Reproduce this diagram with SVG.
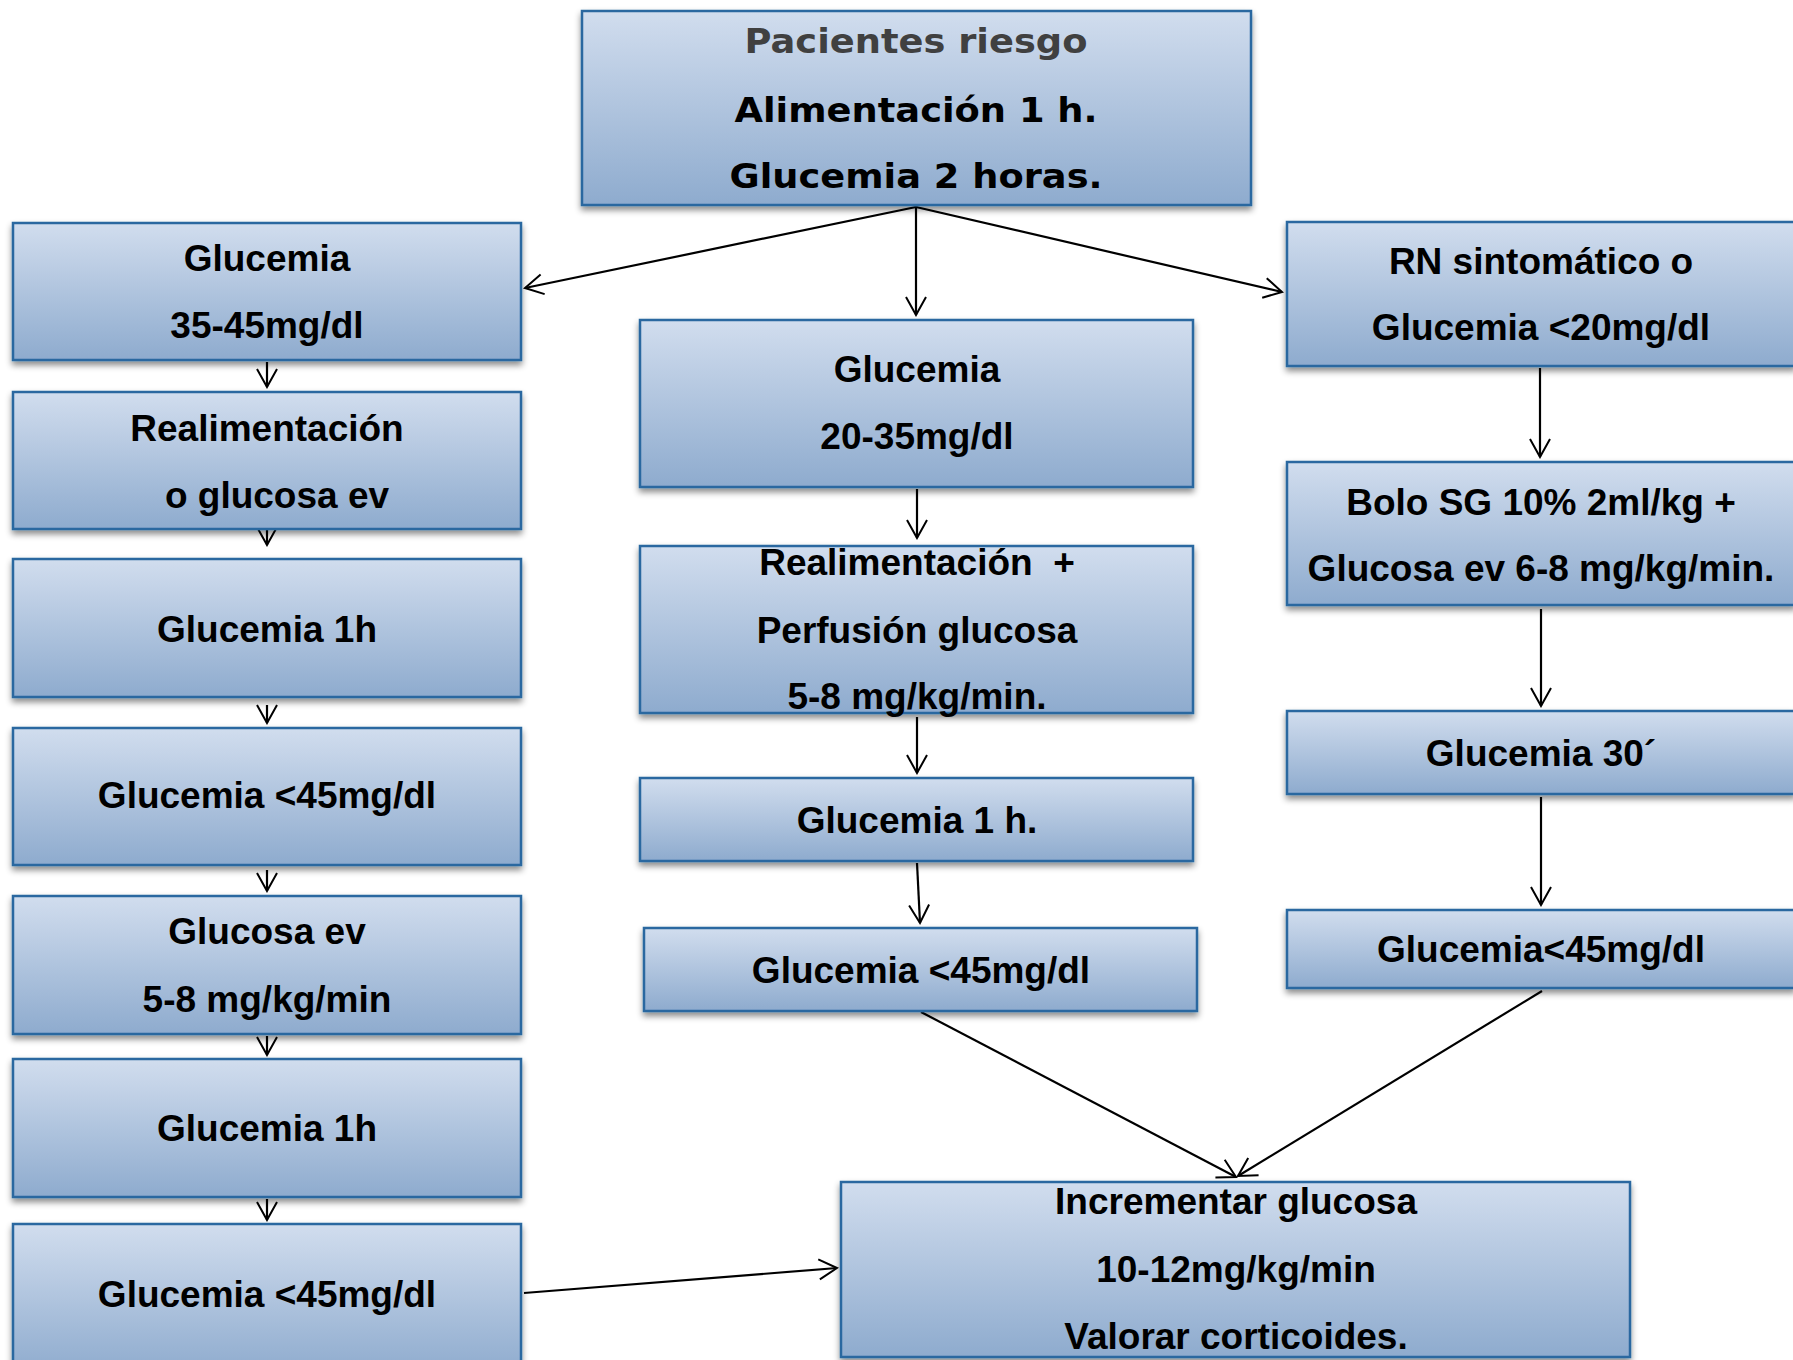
<svg xmlns="http://www.w3.org/2000/svg" width="1793" height="1360" viewBox="0 0 1793 1360">
<defs>
<linearGradient id="g" x1="0" y1="0" x2="0" y2="1">
<stop offset="0" stop-color="#d1ddee"/>
<stop offset="1" stop-color="#8eabce"/>
</linearGradient>
<filter id="sh" x="-5%" y="-10%" width="110%" height="130%">
<feDropShadow dx="0" dy="4" stdDeviation="3" flood-color="#000" flood-opacity="0.45"/>
</filter>
<marker id="ah" markerUnits="userSpaceOnUse" viewBox="-20 -12 22 24" markerWidth="22" markerHeight="24" refX="0" refY="0" orient="auto">
<path d="M-18,-10 L0,0 L-18,10" fill="none" stroke="#000" stroke-width="2"/>
</marker>
</defs>
<style>
.box{fill:url(#g);stroke:#2a67a0;stroke-width:2.5;filter:url(#sh)}
.t{font-family:"Liberation Sans",Arial,sans-serif;font-weight:bold;font-size:37px;fill:#000;text-anchor:middle}
.tt{font-family:"DejaVu Sans",sans-serif;font-weight:bold;font-size:33px;fill:#000;text-anchor:middle}
.c{fill:none;stroke:#000;stroke-width:2.2;marker-end:url(#ah)}
</style>
<rect width="1793" height="1360" fill="#fff"/>

<g id="connectors">
<path class="c" d="M916,207 L525,288"/>
<path class="c" d="M916,207 L916,315"/>
<path class="c" d="M916,207 L1282,292"/>
<path class="c" d="M267,362 L267,387"/>
<path class="c" d="M267,527 L267,545"/>
<path class="c" d="M267,705 L267,723"/>
<path class="c" d="M267,870 L267,891"/>
<path class="c" d="M267,1036 L267,1055"/>
<path class="c" d="M267,1199 L267,1220"/>
<path class="c" d="M524,1293 L837,1268"/>
<path class="c" d="M917,489 L917,538"/>
<path class="c" d="M917,717 L917,773"/>
<path class="c" d="M917,863 L920,923"/>
<path class="c" d="M921,1012 L1236,1177"/>
<path class="c" d="M1540,368 L1540,457"/>
<path class="c" d="M1541,609 L1541,706"/>
<path class="c" d="M1541,797 L1541,905"/>
<path class="c" d="M1542,991 L1238,1176"/>
</g>

<g id="top">
<rect class="box" x="582" y="11" width="669" height="194"/>
<text class="tt" x="916" y="53" style="fill:#404040" textLength="343" lengthAdjust="spacingAndGlyphs">Pacientes riesgo</text>
<text class="tt" x="916" y="122" textLength="363" lengthAdjust="spacingAndGlyphs">Alimentación 1 h.</text>
<text class="tt" x="916" y="188" textLength="373" lengthAdjust="spacingAndGlyphs">Glucemia 2 horas.</text>
</g>

<g id="l1">
<rect class="box" x="13" y="223" width="508" height="137"/>
<text class="t" x="267" y="271">Glucemia</text>
<text class="t" x="267" y="338">35-45mg/dl</text>
</g>
<g id="l2">
<rect class="box" x="13" y="392" width="508" height="137"/>
<text class="t" x="267" y="441">Realimentación</text>
<text class="t" x="277" y="508">o glucosa ev</text>
</g>
<g id="l3">
<rect class="box" x="13" y="559" width="508" height="138"/>
<text class="t" x="267" y="642">Glucemia 1h</text>
</g>
<g id="l4">
<rect class="box" x="13" y="728" width="508" height="137"/>
<text class="t" x="267" y="808">Glucemia &lt;45mg/dl</text>
</g>
<g id="l5">
<rect class="box" x="13" y="896" width="508" height="138"/>
<text class="t" x="267" y="944">Glucosa ev</text>
<text class="t" x="267" y="1012">5-8 mg/kg/min</text>
</g>
<g id="l6">
<rect class="box" x="13" y="1059" width="508" height="138"/>
<text class="t" x="267" y="1141">Glucemia 1h</text>
</g>
<g id="l7">
<rect class="box" x="13" y="1224" width="508" height="150"/>
<text class="t" x="267" y="1307">Glucemia &lt;45mg/dl</text>
</g>

<g id="m1">
<rect class="box" x="640" y="320" width="553" height="167"/>
<text class="t" x="917" y="382">Glucemia</text>
<text class="t" x="917" y="449">20-35mg/dl</text>
</g>
<g id="m2">
<rect class="box" x="640" y="546" width="553" height="167"/>
<text class="t" x="917" y="575" xml:space="preserve">Realimentación  +</text>
<text class="t" x="917" y="643">Perfusión glucosa</text>
<text class="t" x="917" y="709">5-8 mg/kg/min.</text>
</g>
<g id="m3">
<rect class="box" x="640" y="778" width="553" height="83"/>
<text class="t" x="917" y="833">Glucemia 1 h.</text>
</g>
<g id="m4">
<rect class="box" x="644" y="928" width="553" height="83"/>
<text class="t" x="921" y="983">Glucemia &lt;45mg/dl</text>
</g>

<g id="r1">
<rect class="box" x="1287" y="222" width="508" height="144"/>
<text class="t" x="1541" y="274">RN sintomático o</text>
<text class="t" x="1541" y="340">Glucemia &lt;20mg/dl</text>
</g>
<g id="r2">
<rect class="box" x="1287" y="462" width="508" height="143"/>
<text class="t" x="1541" y="515">Bolo SG 10% 2ml/kg +</text>
<text class="t" x="1541" y="581">Glucosa ev 6-8 mg/kg/min.</text>
</g>
<g id="r3">
<rect class="box" x="1287" y="711" width="508" height="83"/>
<text class="t" x="1541" y="766">Glucemia 30´</text>
</g>
<g id="r4">
<rect class="box" x="1287" y="910" width="508" height="78"/>
<text class="t" x="1541" y="962">Glucemia&lt;45mg/dl</text>
</g>

<g id="e">
<rect class="box" x="841" y="1182" width="789" height="175"/>
<text class="t" x="1236" y="1214">Incrementar glucosa</text>
<text class="t" x="1236" y="1282">10-12mg/kg/min</text>
<text class="t" x="1236" y="1349">Valorar corticoides.</text>
</g>
</svg>
